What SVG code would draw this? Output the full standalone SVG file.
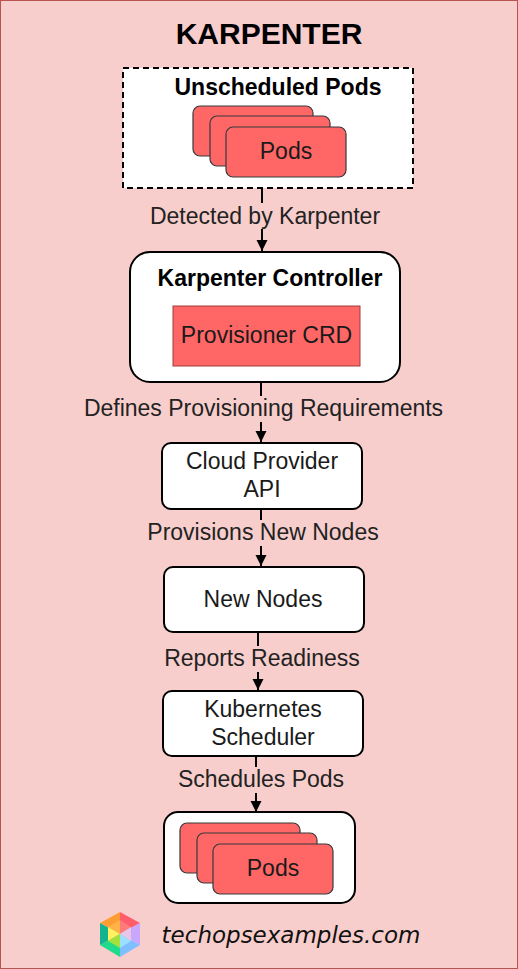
<svg xmlns="http://www.w3.org/2000/svg" width="518" height="969" viewBox="0 0 518 969">
<style>
text{font-family:"Liberation Sans",Arial,sans-serif;fill:#1a1a1a;text-anchor:middle}
.t{font-size:23px}
.l{font-size:23px;fill:#222}
.b{font-weight:bold;font-size:23px;fill:#000}
.box{fill:#fff;stroke:#000;stroke-width:2}
.pod{fill:#ff6666;stroke:#36393d;stroke-width:1.2}
.cn{stroke:#000;stroke-width:2;fill:none;marker-end:url(#a)}
.bg{fill:#f8cecc}
</style>
<defs>
<marker id="a" markerUnits="userSpaceOnUse" markerWidth="14" markerHeight="12" refX="11" refY="6" orient="auto"><path d="M0,0.500 L11,6 L0,11.500 Z" fill="#000"/></marker>
</defs>
<rect id="background" x="0.5" y="0.5" width="517" height="968" fill="#f8cecc" stroke="#b85450" stroke-width="1"/>
<text x="269" y="44" style="font-weight:bold;font-size:30px;fill:#000">KARPENTER</text>
<g id="connectors">
<path class="cn" d="M262,189V251"/>
<path class="cn" d="M261,383V442"/>
<path class="cn" d="M261,509V566"/>
<path class="cn" d="M258,633V690"/>
<path class="cn" d="M256,757V812"/>
</g>
<g id="edge-labels">
<rect class="bg" x="150" y="203" width="230" height="26"/>
<text class="l" x="265" y="224">Detected by Karpenter</text>
<rect class="bg" x="84" y="396" width="359" height="26"/>
<text class="l" x="263.500" y="416">Defines Provisioning Requirements</text>
<rect class="bg" x="147" y="520" width="232" height="26"/>
<text class="l" x="263" y="540">Provisions New Nodes</text>
<rect class="bg" x="164" y="646" width="196" height="26"/>
<text class="l" x="262" y="666">Reports Readiness</text>
<rect class="bg" x="178" y="767" width="166" height="26"/>
<text class="l" x="261" y="787">Schedules Pods</text>
</g>
<g id="unscheduled-pods">
<rect x="123" y="68" width="290" height="120" fill="#fff" stroke="#000" stroke-width="2" stroke-dasharray="6 4"/>
<text class="b" x="278" y="95">Unscheduled Pods</text>
<rect class="pod" x="193" y="106" width="120" height="50" rx="7"/>
<rect class="pod" x="210" y="116" width="120" height="50" rx="7"/>
<rect class="pod" x="226" y="127" width="120" height="50" rx="7"/>
<text class="t" x="286" y="159">Pods</text>
</g>
<g id="karpenter-controller">
<rect class="box" x="130" y="252" width="270" height="130" rx="20"/>
<text class="b" x="270" y="286">Karpenter Controller</text>
<rect x="173" y="306" width="187" height="60" fill="#ff6666" stroke="#a33c3a"/>
<text class="t" x="266.500" y="343">Provisioner CRD</text>
</g>
<g id="cloud-provider-api">
<rect class="box" x="162" y="443" width="200" height="66" rx="9"/>
<text class="t" x="262" y="469">Cloud Provider</text>
<text class="t" x="262" y="497">API</text>
</g>
<g id="new-nodes">
<rect class="box" x="164" y="567" width="200" height="65" rx="9"/>
<text class="t" x="263" y="607">New Nodes</text>
</g>
<g id="kubernetes-scheduler">
<rect class="box" x="163" y="691" width="200" height="65" rx="9"/>
<text class="t" x="263" y="717">Kubernetes</text>
<text class="t" x="263" y="745">Scheduler</text>
</g>
<g id="pods-scheduled">
<rect class="box" x="164" y="812" width="191" height="91" rx="14"/>
<rect class="pod" x="180" y="823" width="120" height="50" rx="7"/>
<rect class="pod" x="197" y="833" width="120" height="50" rx="7"/>
<rect class="pod" x="213" y="844" width="120" height="50" rx="7"/>
<text class="t" x="273" y="876">Pods</text>
</g>
<g id="logo">
<path d="M120,912 L100,923 L120,934Z" fill="#ff9d33"/>
<path d="M120,912 L140,923 L120,934Z" fill="#ff5d6c"/>
<path d="M140,923 V945 L120,934Z" fill="#c9a7ff"/>
<path d="M140,945 L120,957 L120,934Z" fill="#7fbfff"/>
<path d="M120,957 L100,945 L120,934Z" fill="#1fdc8c"/>
<path d="M100,945 V923 L120,934Z" fill="#12b38f"/>
<path d="M120,934 L108,927 L120,920Z" fill="#ffb347"/>
<path d="M120,934 L120,920 L131,927Z" fill="#ff7a7a"/>
<path d="M120,934 L108,927 V941Z" fill="#fff060"/>
<path d="M120,934 L108,941 L120,948Z" fill="#a5e03c"/>
<path d="M120,934 L120,948 L131,941Z" fill="#9be0ff"/>
<path d="M120,934 L131,927 V941Z" fill="#e6c8e6"/>
</g>
<text x="291" y="943" style="font-family:'DejaVu Sans',sans-serif;font-style:italic;font-size:23px;fill:#111">techopsexamples.com</text>
</svg>
